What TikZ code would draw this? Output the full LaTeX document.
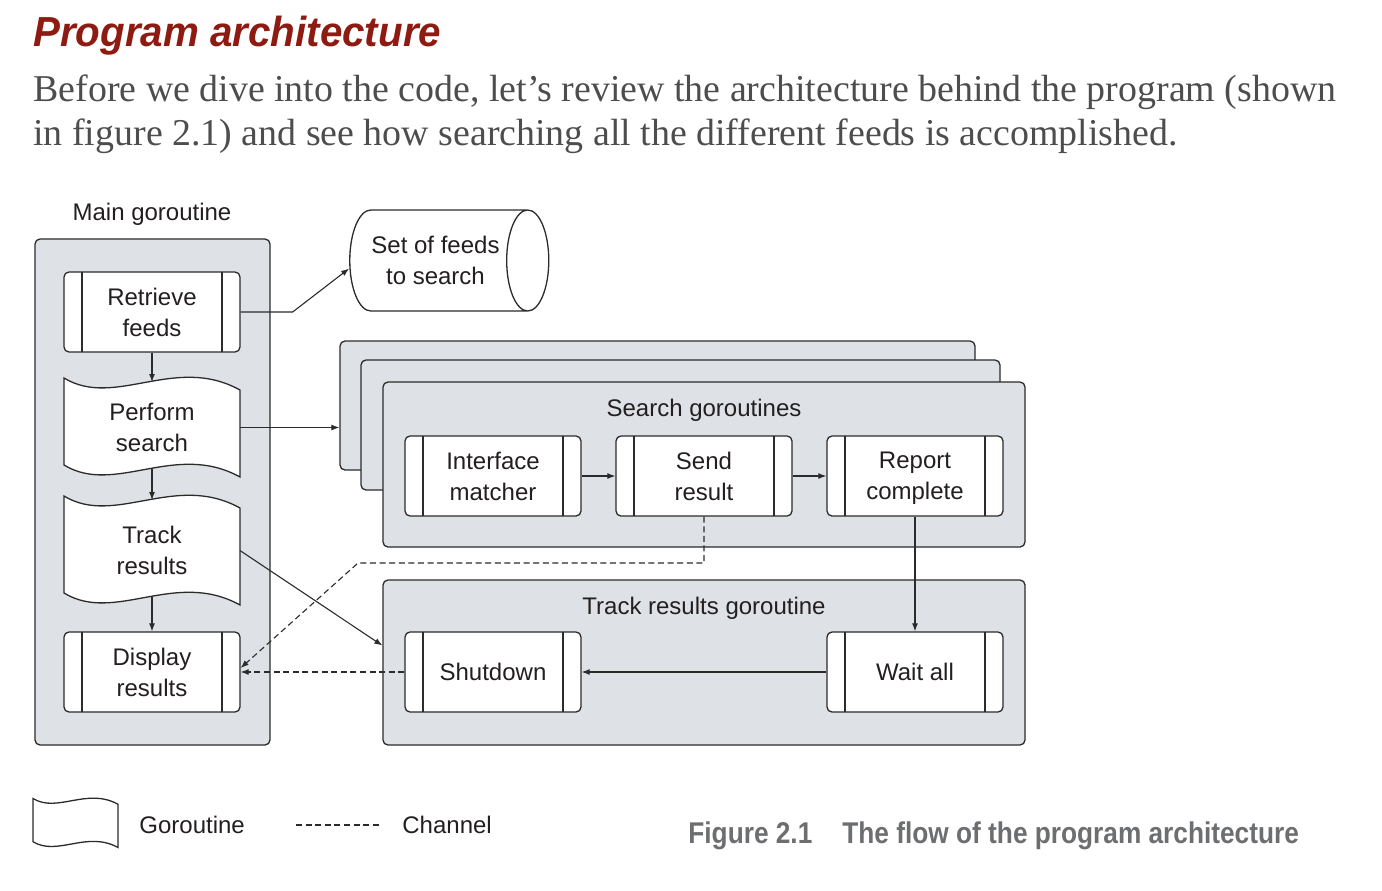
\documentclass[tikz,border=0pt]{standalone}
\usepackage{fontspec}
\setmainfont{Liberation Sans}
\newfontfamily\bodyfont{Liberation Serif}
\newfontfamily\titlefont[FakeStretch=0.96]{Liberation Sans}
\newfontfamily\capfont[FakeStretch=0.875]{Liberation Sans}
\usetikzlibrary{shapes.geometric,arrows.meta,positioning,calc}
\definecolor{cLine}{HTML}{2B2B2B}
\definecolor{cGroup}{HTML}{DEE2E7}
\definecolor{cText}{HTML}{231F20}
\definecolor{cTitle}{HTML}{8E1B12}
\definecolor{cBody}{HTML}{4D4D4D}
\definecolor{cCap}{HTML}{6D6E70}
\tikzset{
  lbl/.style      = {inner sep=0pt, text=cText, font=\fontsize{12}{15.5}\selectfont},
  grp/.style      = {rectangle, rounded corners=2.5pt, draw=cLine, fill=cGroup,
                     line width=0.65pt, inner sep=0pt},
  proc/.style     = {rectangle, rounded corners=2.5pt, draw=cLine, fill=white,
                     line width=0.65pt, minimum width=88pt, minimum height=40pt,
                     inner sep=0pt, align=center, text=cText, font=\fontsize{12}{15.5}\selectfont,
                     path picture={
                       \draw[cLine, line width=0.65pt]
                         ([xshift=9pt]path picture bounding box.north west) -- ([xshift=9pt]path picture bounding box.south west)
                         ([xshift=-9pt]path picture bounding box.north east) -- ([xshift=-9pt]path picture bounding box.south east);}},
  % #1 node, #2 scale of the wave
  wavepath/.style 2 args = {insert path={
                       (#1.north west) .. controls +(51*#2,31*#2) and +(-65*#2,-36*#2)
                       .. ([yshift=-6*#2]#1.north east) -- (#1.south east)
                       .. controls +(-65*#2,-36*#2) and +(51*#2,31*#2)
                       .. ([yshift=6*#2]#1.south west) -- cycle}},
  gor/.style      = {rectangle, inner sep=0pt, outer sep=0pt, minimum width=88pt,
                     align=center, text=cText, font=\fontsize{12}{15.5}\selectfont,
                     path picture={\fill[white, wavepath={path picture bounding box}{#1}];}},
  gor/.default    = 1,
  store/.style    = {cylinder, shape border rotate=0, aspect=0.8, draw=cLine, fill=white,
                     line width=0.65pt, minimum height=99.5pt, minimum width=50.5pt,
                     inner sep=1pt, align=center, text=cText, font=\fontsize{12}{15.5}\selectfont},
  arr/.style      = {-{Latex[length=4pt,width=3pt]}, draw=cLine, line width=0.55pt},
  chan/.style     = {arr, dash pattern=on 3pt off 1.8pt},
}

\begin{document}
\begin{tikzpicture}[x=0.5pt, y=-0.5pt]
  \useasboundingbox (0,0) rectangle (1382,890);

  \node[anchor=base west, inner sep=0pt, text=cTitle,
        font=\titlefont\bfseries\itshape\fontsize{21}{24}\selectfont] (ttl) at (33,46) {Program architecture};
  \node[anchor=base west, inner sep=0pt, text=cBody,
        font=\bodyfont\fontsize{18.95}{24}\selectfont] (body1) at (33,101)
        {Before we dive into the code, let’s review the architecture behind the program (shown};
  \node[anchor=base west, inner sep=0pt, text=cBody,
        font=\bodyfont\fontsize{18.95}{24}\selectfont] (body2) at (33,145)
        {in figure 2.1) and see how searching all the different feeds is accomplished.};

  % main goroutine
  \node[lbl, anchor=base] (mainlbl) at (152,220) {Main goroutine};
  \node[grp, minimum width=117.5pt, minimum height=253pt] (mainbox) at (152.5,492) {};
  \node[proc] (rf) at (152,312) {Retrieve\\feeds};
  \node[gor, minimum height=49.5pt] (ps) at (152,427.5) {Perform\\search};
  \node[gor, minimum height=54.5pt] (tr) at (152,550.5) {Track\\results};
  \node[proc] (dr) at (152,672) {Display\\results};

  \node[store] (sf) at (435.5,260.5) {Set of feeds\\to search};

  % search goroutines (stacked)
  \node[grp, minimum width=317.5pt, minimum height=64.5pt] (sg3) at (657.5,405.5) {};
  \node[grp, minimum width=319.5pt, minimum height=65pt] (sg2) at (680.5,425) {};
  \node[grp, minimum width=321pt, minimum height=82.5pt] (sg1) at (704,464.5) {};
  \node[lbl, anchor=base] (sglbl) at (704,416) {Search goroutines};
  \node[proc] (im) at (493,476) {Interface\\matcher};
  \node[proc] (sr) at (704,476) {Send\\result};
  \node[proc] (rc) at (915,476) {Report\\\raisebox{0pt}[\height][0pt]{complete}};

  % track results goroutine
  \node[grp, minimum width=321pt, minimum height=82.5pt] (tg) at (704,662.5) {};
  \node[lbl, anchor=base] (tglbl) at (704,614) {Track results goroutine};
  \node[proc] (sd) at (493,672) {Shutdown};
  \node[proc] (wa) at (915,672) {Wait all};

  \foreach \n in {ps,tr}
    \draw[cLine, line width=0.65pt, wavepath={\n}{1}];

  \draw[arr] (rf.south) -- ([yshift=-2pt]ps.north);
  \draw[arr] ([yshift=4pt]ps.south) -- ([yshift=-2pt]tr.north);
  \draw[arr] ([yshift=4pt]tr.south) -- (dr.north);
  \draw[arr] (rf.east) -- ++(52,0) -- ([yshift=-4pt]sf.west);
  \draw[arr] (ps.east) -- (ps.east -| sg3.west);
  \draw[arr] (im) -- (sr);
  \draw[arr] (sr) -- (rc);
  \draw[arr] (rc.south) -- (wa.north);
  \draw[arr] (wa) -- (sd);
  \draw[arr] (tr.east) -- ([yshift=8.5pt]tg.west);
  \coordinate (bend) at (358,563);
  \draw[chan] (sr.south) |- (bend) -- ([yshift=2pt]dr.east);
  \draw[chan] (sd.west) -- (dr.east);

  % legend and caption
  \node[gor=0.48, minimum width=42.5pt, minimum height=24.5pt] (lg) at (75.5,823) {};
  \draw[cLine, line width=0.65pt, wavepath={lg}{0.48}];
  \node[lbl, anchor=west] (lggor) at (139,825) {Goroutine};
  \coordinate (cha) at (296,825);
  \coordinate (chb) at (381,825);
  \draw[draw=cLine, line width=0.55pt, dash pattern=on 3pt off 1.8pt] (cha) -- (chb);
  \node[lbl, anchor=west] (lgchan) at (402,825) {Channel};
  \node[anchor=base west, inner sep=0pt, text=cCap,
        font=\capfont\bfseries\fontsize{15}{18}\selectfont] (cap) at (688,843)
        {Figure 2.1\hspace{15pt}The flow of the program architecture};
\end{tikzpicture}
\end{document}
